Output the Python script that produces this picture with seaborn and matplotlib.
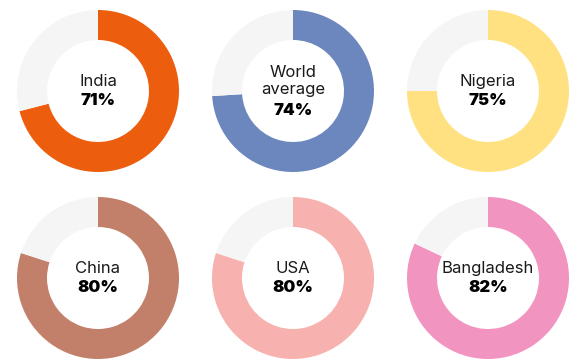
import matplotlib
matplotlib.use("Agg")
import matplotlib.pyplot as plt
import seaborn as sns

countries = ["India", "World\naverage", "Nigeria", "China", "USA", "Bangladesh"]
values = [71, 74, 75, 80, 80, 82]
colors = ["#EC5D0E", "#6B87BD", "#FFE182", "#C2806A", "#F7B2AF", "#F294C0"]
rest_color = "#F5F5F5"

sns.set_theme(style="white")
plt.rcParams['font.family'] = ['Inter', 'DejaVu Sans']

W, H = 573, 359
fig = plt.figure(figsize=(W / 100, H / 100), dpi=100)
ax = fig.add_axes([0, 0, 1, 1])

col_x = [98, 293, 488]
row_y = [91, 278]
radius = 81
ring = 30

for i, (name, val, c) in enumerate(zip(countries, values, colors)):
    cx = col_x[i % 3]
    cy = H - row_y[i // 3]
    ax.pie([val, 100 - val], colors=[c, rest_color], startangle=90,
           counterclock=False, radius=radius, center=(cx, cy),
           wedgeprops=dict(width=ring, linewidth=0), frame=True)
    nlines = name.count("\n") + 1
    line_h = 19.5
    total = nlines + 1
    top = cy + (total - 1) * line_h / 2
    ax.text(cx, top - (nlines - 1) * line_h / 2, name, ha="center", va="center",
            fontsize=12, color="#1a1a1a", linespacing=1.15)
    ax.text(cx, top - nlines * line_h, f"{val}%", ha="center", va="center",
            fontsize=12, fontweight=900, color="#000000")

ax.set_xlim(0, W)
ax.set_ylim(0, H)
ax.set_aspect("equal")
ax.axis("off")
fig.savefig("out.png", dpi=100)
